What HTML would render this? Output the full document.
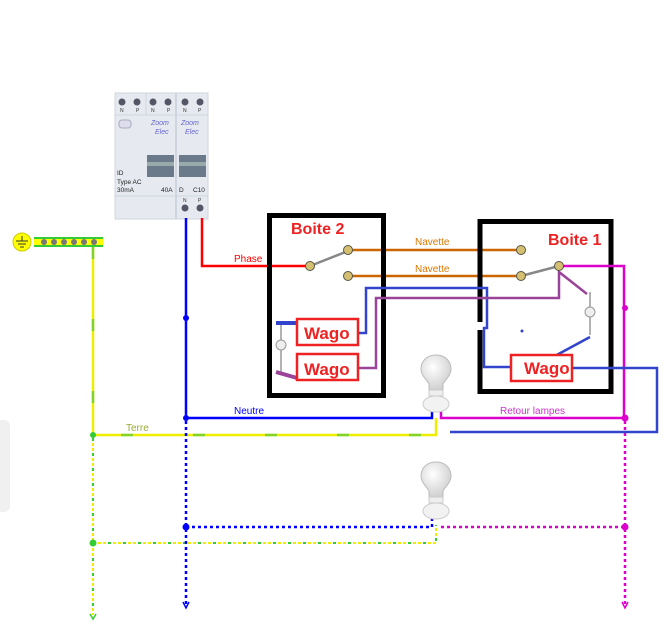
<!DOCTYPE html>
<html><head><meta charset="utf-8"><style>
html,body{margin:0;padding:0;background:#fff;}
svg{display:block;font-family:"Liberation Sans",sans-serif;}
</style></head><body>
<svg width="667" height="629" viewBox="0 0 667 629" xmlns="http://www.w3.org/2000/svg">
<defs>
<radialGradient id="bulb" cx=".4" cy=".35" r=".7"><stop offset="0" stop-color="#fff"/><stop offset="1" stop-color="#ccc"/></radialGradient>
</defs>
<rect x="-10" y="420" width="20" height="92" rx="6" fill="#f0f0f0"/>
<!-- breaker panel -->
<rect x="115" y="93" width="93" height="126" fill="#e6eaf0" stroke="#cfd5de"/>
<line x1="176" y1="93" x2="176" y2="219" stroke="#cfd5de" stroke-width="2"/>
<line x1="146" y1="93" x2="146" y2="115" stroke="#cfd5de"/>
<line x1="115" y1="115" x2="208" y2="115" stroke="#cfd5de"/>
<line x1="115" y1="196" x2="208" y2="196" stroke="#cfd5de"/>
<g fill="#556">
<circle cx="122" cy="102" r="3.5"/><circle cx="137" cy="102" r="3.5"/><circle cx="153" cy="102" r="3.5"/><circle cx="168" cy="102" r="3.5"/><circle cx="185" cy="102" r="3.5"/><circle cx="200" cy="102" r="3.5"/>
<circle cx="185" cy="208" r="3.5"/><circle cx="200" cy="208" r="3.5"/>
</g>
<g font-size="5" fill="#333"><text x="120" y="112">N</text><text x="136" y="112">P</text><text x="151" y="112">N</text><text x="167" y="112">P</text><text x="183" y="112">N</text><text x="198" y="112">P</text><text x="183" y="202">N</text><text x="198" y="202">P</text></g>
<rect x="119" y="120" width="12" height="8" rx="3" fill="#dde" stroke="#aab"/>
<g font-size="7" fill="#66c" font-style="italic"><text x="151" y="125">Zoom</text><text x="155" y="134">Elec</text><text x="181" y="125">Zoom</text><text x="185" y="134">Elec</text></g>
<rect x="147" y="155" width="27" height="22" fill="#6a7a8a"/><rect x="147" y="162" width="27" height="4" fill="#9aa"/>
<rect x="179" y="155" width="27" height="22" fill="#6a7a8a"/><rect x="179" y="162" width="27" height="4" fill="#9aa"/>
<g font-size="6.5" fill="#222"><text x="117" y="175">ID</text><text x="117" y="184">Type AC</text><text x="117" y="192">30mA</text><text x="161" y="192">40A</text><text x="179" y="192">D</text><text x="193" y="192">C10</text></g>
<!-- earth -->
<circle cx="22" cy="242" r="9" fill="#ff0" stroke="#cc0"/>
<path d="M22 236v5M16 241h12M18 244h8M20 247h4" stroke="#333" stroke-width="1"/>
<rect x="34" y="237" width="69" height="10" fill="#ff0"/><rect x="34" y="237" width="69" height="2" fill="#3c3"/><rect x="34" y="245" width="69" height="2" fill="#3c3"/>
<g fill="#777"><circle cx="44" cy="242" r="3"/><circle cx="54" cy="242" r="3"/><circle cx="64" cy="242" r="3"/><circle cx="74" cy="242" r="3"/><circle cx="84" cy="242" r="3"/><circle cx="94" cy="242" r="3"/></g>
<!-- earth wire -->
<path d="M93 247V435H436V418" fill="none" stroke="#ee0" stroke-width="2.5"/>
<path d="M93 247V435H436V418" fill="none" stroke="#6c3" stroke-width="2.5" stroke-dasharray="12 60" opacity=".8"/>
<circle cx="93" cy="435" r="3" fill="#3c3"/>
<text x="126" y="431" font-size="10" fill="#9a3">Terre</text>
<path d="M93 438V615M93 543H436V525" fill="none" stroke="#ee0" stroke-width="2" stroke-dasharray="3 2"/>
<path d="M93 438V615M93 543H436V525" fill="none" stroke="#3c3" stroke-width="2" stroke-dasharray="3 12"/>
<circle cx="93" cy="543" r="3.5" fill="#3c3"/>
<path d="M90 614l3 5 3-5" fill="none" stroke="#3c3" stroke-width="1.5"/>
<!-- neutral -->
<path d="M186 218V418H432V405" fill="none" stroke="#00f" stroke-width="2.5"/>
<circle cx="186" cy="318" r="3" fill="#00f"/><circle cx="186" cy="418" r="3" fill="#00f"/>
<text x="234" y="414" font-size="10" fill="#00f">Neutre</text>
<path d="M186 421V606M186 527H432V515" fill="none" stroke="#00f" stroke-width="2.5" stroke-dasharray="3 3"/>
<circle cx="186" cy="527" r="3.5" fill="#00f"/>
<path d="M183 602l3 6 3-6" fill="none" stroke="#00f" stroke-width="1.5"/>
<!-- phase -->
<path d="M202 218V266H310" fill="none" stroke="#f00" stroke-width="2.5"/>
<text x="234" y="262" font-size="10" fill="#f00">Phase</text>
<!-- navettes -->
<path d="M348 250H521M348 276H521" stroke="#c60" stroke-width="2.5"/>
<text x="415" y="245" font-size="10" fill="#d70">Navette</text>
<text x="415" y="272" font-size="10" fill="#d70">Navette</text>
<!-- boxes -->
<rect x="269.5" y="215.5" width="114" height="180" fill="none" stroke="#000" stroke-width="5"/>
<rect x="480" y="221.5" width="131" height="170" fill="none" stroke="#000" stroke-width="5"/>
<rect x="476" y="322" width="8" height="8" fill="#fff"/>
<text x="291" y="234" font-size="16" font-weight="bold" fill="#e22">Boite 2</text>
<text x="548" y="245" font-size="16" font-weight="bold" fill="#e22">Boite 1</text>
<!-- magenta retour -->
<path d="M559 266H624V418M441 410V418H625" fill="none" stroke="#d0c" stroke-width="2.5"/>
<circle cx="625" cy="308" r="3" fill="#d0c"/><circle cx="625" cy="418" r="3.5" fill="#d0c"/>
<text x="500" y="414" font-size="10" fill="#c3c">Retour lampes</text>
<path d="M441 527H625" stroke="#d0c" stroke-width="2.5" stroke-dasharray="3 3"/>
<path d="M625 421V606" stroke="#d0c" stroke-width="2.5" stroke-dasharray="3 3"/>
<circle cx="625" cy="527" r="3.5" fill="#d0c"/>
<path d="M622 602l3 6 3-6" fill="none" stroke="#d0c" stroke-width="1.5"/>
<!-- blue return wires -->
<path d="M358 333H366V288H487V328H484V367H510" fill="none" stroke="#34c" stroke-width="2.5"/>
<path d="M572 368H657V432H450" fill="none" stroke="#34c" stroke-width="2.5"/>
<path d="M553 357L590 337" stroke="#34c" stroke-width="2.5"/>
<circle cx="522" cy="331" r="1.5" fill="#34c"/>
<!-- purple -->
<path d="M358 368H376V298H559V272L587 294" fill="none" stroke="#949" stroke-width="2.5"/>
<path d="M590 292V335" stroke="#999" stroke-width="1.5"/>
<circle cx="590" cy="312" r="5" fill="#eee" stroke="#999"/>
<!-- switch levers -->
<path d="M310 266L348 251M521 276L559 266" stroke="#888" stroke-width="2.5"/>
<g fill="#d4c070" stroke="#554" stroke-width="1">
<circle cx="310" cy="266" r="4.5"/><circle cx="348" cy="250" r="4.5"/><circle cx="348" cy="276" r="4.5"/>
<circle cx="521" cy="250" r="4.5"/><circle cx="521" cy="276" r="4.5"/><circle cx="559" cy="266" r="4.5"/>
</g>
<!-- box2 small lamp -->
<path d="M281 323V375" stroke="#999" stroke-width="1.5"/>
<circle cx="281" cy="345" r="5" fill="#eee" stroke="#999"/>
<path d="M276 323H296" stroke="#34c" stroke-width="4"/>
<path d="M276 372L297 378" stroke="#949" stroke-width="4"/>
<!-- wagos -->
<g fill="#fff" stroke="#e22" stroke-width="2.5">
<rect x="297" y="319" width="61" height="26"/><rect x="297" y="354" width="61" height="26"/><rect x="511" y="355" width="61" height="26"/>
</g>
<g font-size="17" font-weight="bold" fill="#e22">
<text x="304" y="339">Wago</text><text x="304" y="375">Wago</text><text x="524" y="374">Wago</text>
</g>
<!-- lamps -->
<g id="lamp">
<path d="M436 355c-10 0-15 7-15 14 0 6 5 10 8 15v6h14v-6c3-5 8-9 8-15 0-7-5-14-15-14z" fill="url(#bulb)" stroke="#bbb"/>
<rect x="429" y="390" width="14" height="6" fill="#eee" stroke="#ccc"/>
<ellipse cx="436" cy="404" rx="13" ry="8" fill="#f2f2f2" stroke="#ccc"/>
</g>
<use href="#lamp" transform="translate(0,107)"/>
</svg>
</body></html>
